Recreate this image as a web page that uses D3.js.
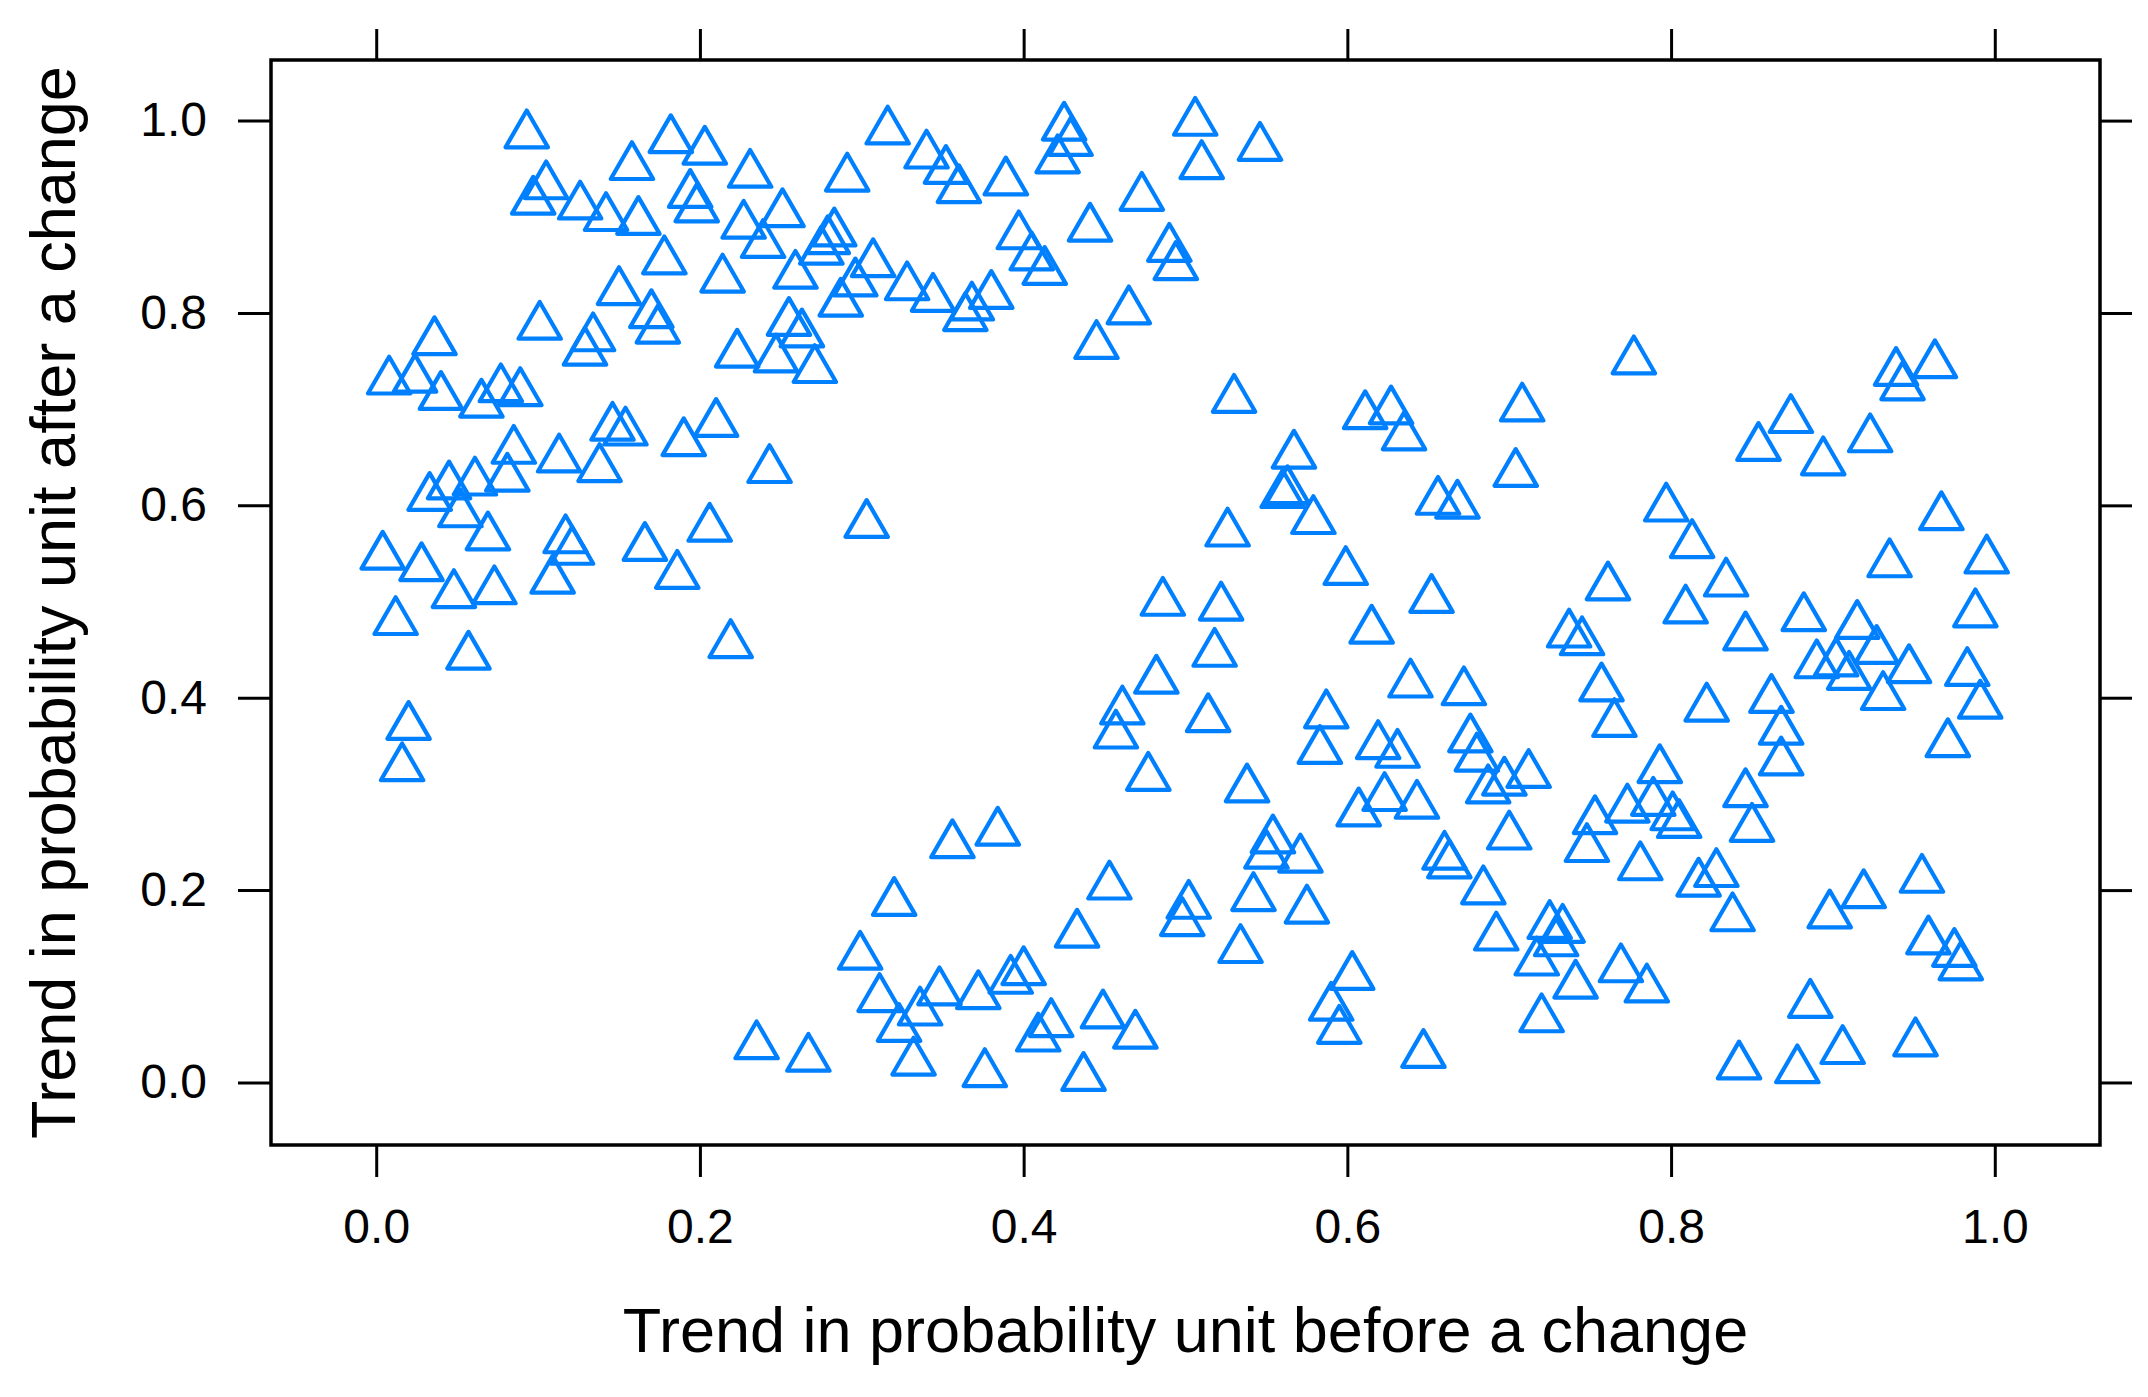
<!DOCTYPE html>
<html><head><meta charset="utf-8">
<script src="https://cdn.jsdelivr.net/npm/d3@7"></script>
<style>
body{margin:0;background:#fff}
svg{display:block}
</style>
</head><body><svg id="chart" width="2148" height="1397"></svg>
<script>
// ---- data ----
const xBefore = [
0.093,0.182,0.203,0.231,0.291,0.158,0.105,0.097,0.126,0.142,0.162,0.194,0.198,0.227,0.251,0.239,0.283,0.279,0.275,0.259,
0.307,0.296,0.287,0.178,0.150,0.170,0.174,0.214,0.101,0.134,0.129,0.036,0.008,0.024,0.040,0.077,0.089,0.065,0.223,0.255,
0.263,0.247,0.271,0.146,0.154,0.190,0.210,0.243,0.085,0.113,0.138,0.081,0.061,0.045,0.033,0.052,0.069,0.117,0.121,0.109,
0.166,0.186,0.206,0.303,0.004,0.028,0.048,0.073,0.012,
0.057,0.219,0.020,0.016,0.299,0.311,0.235,0.267,
0.316,0.340,0.352,0.360,0.389,0.425,0.429,0.421,0.506,0.510,0.546,0.473,0.441,0.397,0.405,0.413,0.490,0.494,0.328,0.344,
0.368,0.380,0.364,0.465,0.445,0.530,0.611,0.627,0.635,0.567,0.560,0.563,0.579,0.526,0.656,0.668,0.599,0.652,0.615,0.486,0.522,
0.777,0.708,0.704,0.939,0.943,0.963,0.874,0.854,0.894,0.923,0.797,0.813,0.761,0.834,0.967,0.935,0.995,0.809,0.882,0.915,
0.988,0.846,0.737,
0.745,0.757,0.765,0.822,0.862,0.868,0.868,0.890,0.902,0.910,0.927,0.947,0.931,0.983,0.991,0.971,0.793,0.789,0.773,0.801,
0.805,0.753,0.748,0.712,0.697,0.700,0.781,0.846,0.850,0.828,0.817,0.838,0.898,0.919,0.955,0.959,0.975,0.979,0.692,0.725,
0.733,0.729,0.717,0.741,0.769,0.785,0.720,0.886,0.842,0.878,0.906,0.951,
0.518,0.482,0.461,0.457,0.514,0.477,0.587,0.583,0.639,0.672,0.619,0.631,0.676,0.680,0.687,0.607,0.623,0.643,0.538,0.554,
0.550,0.571,0.542,0.575,0.534,0.660,0.663,0.684,0.453,0.433,0.502,0.498,0.356,0.384,0.320,0.348,0.372,0.336,0.323,0.332,
0.392,0.400,0.376,0.417,0.409,0.449,0.469,0.437,0.603,0.590,0.595,0.647
];
const yAfter = [
0.985,0.980,0.968,0.944,0.940,0.952,0.932,0.916,0.911,0.899,0.895,0.923,0.908,0.891,0.903,0.871,0.883,0.875,0.864,0.839,
0.851,0.831,0.810,0.854,0.822,0.798,0.782,0.835,0.786,0.774,0.759,0.770,0.729,0.731,0.713,0.721,0.717,0.705,0.757,0.790,
0.778,0.752,0.741,0.681,0.676,0.665,0.685,0.637,0.657,0.648,0.638,0.628,0.624,0.620,0.608,0.591,0.567,0.564,0.552,0.522,
0.556,0.527,0.576,0.580,0.547,0.535,0.507,0.511,0.479,
0.443,0.455,0.370,0.327,0.131,0.087,0.038,0.025,
0.989,0.964,0.948,0.928,0.936,0.993,0.977,0.959,0.998,0.953,0.972,0.920,0.888,0.880,0.858,0.843,0.867,0.848,0.827,0.815,
0.806,0.818,0.795,0.802,0.766,0.710,0.693,0.698,0.671,0.652,0.611,0.615,0.584,0.571,0.604,0.600,0.531,0.502,0.470,0.499,0.494,
0.750,0.701,0.633,0.738,0.723,0.746,0.689,0.660,0.645,0.669,0.597,0.559,0.515,0.519,0.588,0.539,0.543,0.491,0.483,0.475,
0.487,0.463,0.466,
0.458,0.410,0.373,0.389,0.398,0.365,0.333,0.434,0.436,0.422,0.449,0.429,0.401,0.426,0.392,0.352,0.325,0.291,0.284,0.276,
0.268,0.272,0.243,0.320,0.312,0.256,0.224,0.300,0.264,0.217,0.207,0.171,0.174,0.195,0.211,0.147,0.134,0.120,0.151,0.163,
0.159,0.145,0.125,0.101,0.118,0.097,0.066,0.081,0.017,0.013,0.033,0.041,
0.446,0.418,0.386,0.361,0.378,0.317,0.382,0.345,0.414,0.406,0.350,0.341,0.357,0.337,0.304,0.280,0.296,0.288,0.305,0.252,
0.236,0.232,0.192,0.179,0.138,0.235,0.226,0.199,0.204,0.154,0.184,0.166,0.247,0.260,0.187,0.094,0.090,0.073,0.056,0.021,
0.106,0.115,0.009,0.061,0.046,0.070,0.049,0.005,0.110,0.078,0.054,0.029
];
const xTicks = [0.0, 0.2, 0.4, 0.6, 0.8, 1.0];
const yTicks = [0.0, 0.2, 0.4, 0.6, 0.8, 1.0];
const xTitle = "Trend in probability unit before a change";
const yTitle = "Trend in probability unit after a change";

// ---- layout ----
const FONT = '"Liberation Sans", Arial, Helvetica, sans-serif';
const box = {left: 271, right: 2100, top: 60, bottom: 1145};
const color = "#0080ff";

const svg = d3.select("#chart");
svg.append("rect").attr("width", 2148).attr("height", 1397).attr("fill", "#fff");

const x = d3.scaleLinear().domain([-0.065, 1.065]).range([box.left, box.right]);
const y = d3.scaleLinear().domain([-0.065, 1.063]).range([box.bottom, box.top]);

const fmt = d3.format(".1f");

function styleAxis(g) {
  g.attr("font-family", FONT).attr("font-size", 48);
  g.select(".domain").remove();
  g.selectAll(".tick line").attr("stroke", "#000").attr("stroke-width", 3);
  g.selectAll(".tick text").attr("fill", "#000");
}

svg.append("g").attr("transform", `translate(0,${box.bottom})`)
  .call(d3.axisBottom(x).tickValues(xTicks).tickSize(32).tickPadding(32).tickFormat(fmt))
  .call(styleAxis);
svg.append("g").attr("transform", `translate(0,${box.top})`)
  .call(d3.axisTop(x).tickValues(xTicks).tickSize(31).tickFormat(""))
  .call(styleAxis);
svg.append("g").attr("transform", `translate(${box.left},0)`)
  .call(d3.axisLeft(y).tickValues(yTicks).tickSize(33).tickPadding(31).tickFormat(fmt))
  .call(styleAxis);
svg.append("g").attr("transform", `translate(${box.right},0)`)
  .call(d3.axisRight(y).tickValues(yTicks).tickSize(32).tickFormat(""))
  .call(styleAxis);

// points: open triangles (centroid at data point)
const r = 24.5;
const tri = `M0,${-r}L${r*Math.sqrt(3)/2},${r/2}L${-r*Math.sqrt(3)/2},${r/2}Z`;
const pts = xBefore.map((v, i) => ({x: v, y: yAfter[i]}));
svg.append("g").selectAll("path").data(pts).join("path")
  .attr("d", tri)
  .attr("transform", d => `translate(${x(d.x)},${y(d.y)})`)
  .attr("fill", "none")
  .attr("stroke", color)
  .attr("stroke-width", 4.2)
  .attr("stroke-linejoin", "round");

// panel box
svg.append("rect")
  .attr("x", box.left).attr("y", box.top)
  .attr("width", box.right - box.left).attr("height", box.bottom - box.top)
  .attr("fill", "none").attr("stroke", "#000").attr("stroke-width", 3.5);

// axis titles
svg.append("text")
  .attr("x", (box.left + box.right) / 2).attr("y", 1352)
  .attr("text-anchor", "middle").attr("font-family", FONT).attr("font-size", 63)
  .attr("fill", "#000").text(xTitle);
svg.append("text")
  .attr("transform", `translate(75,${(box.top + box.bottom) / 2}) rotate(-90)`)
  .attr("text-anchor", "middle").attr("font-family", FONT).attr("font-size", 63)
  .attr("fill", "#000").text(yTitle);
</script>
</body></html>
